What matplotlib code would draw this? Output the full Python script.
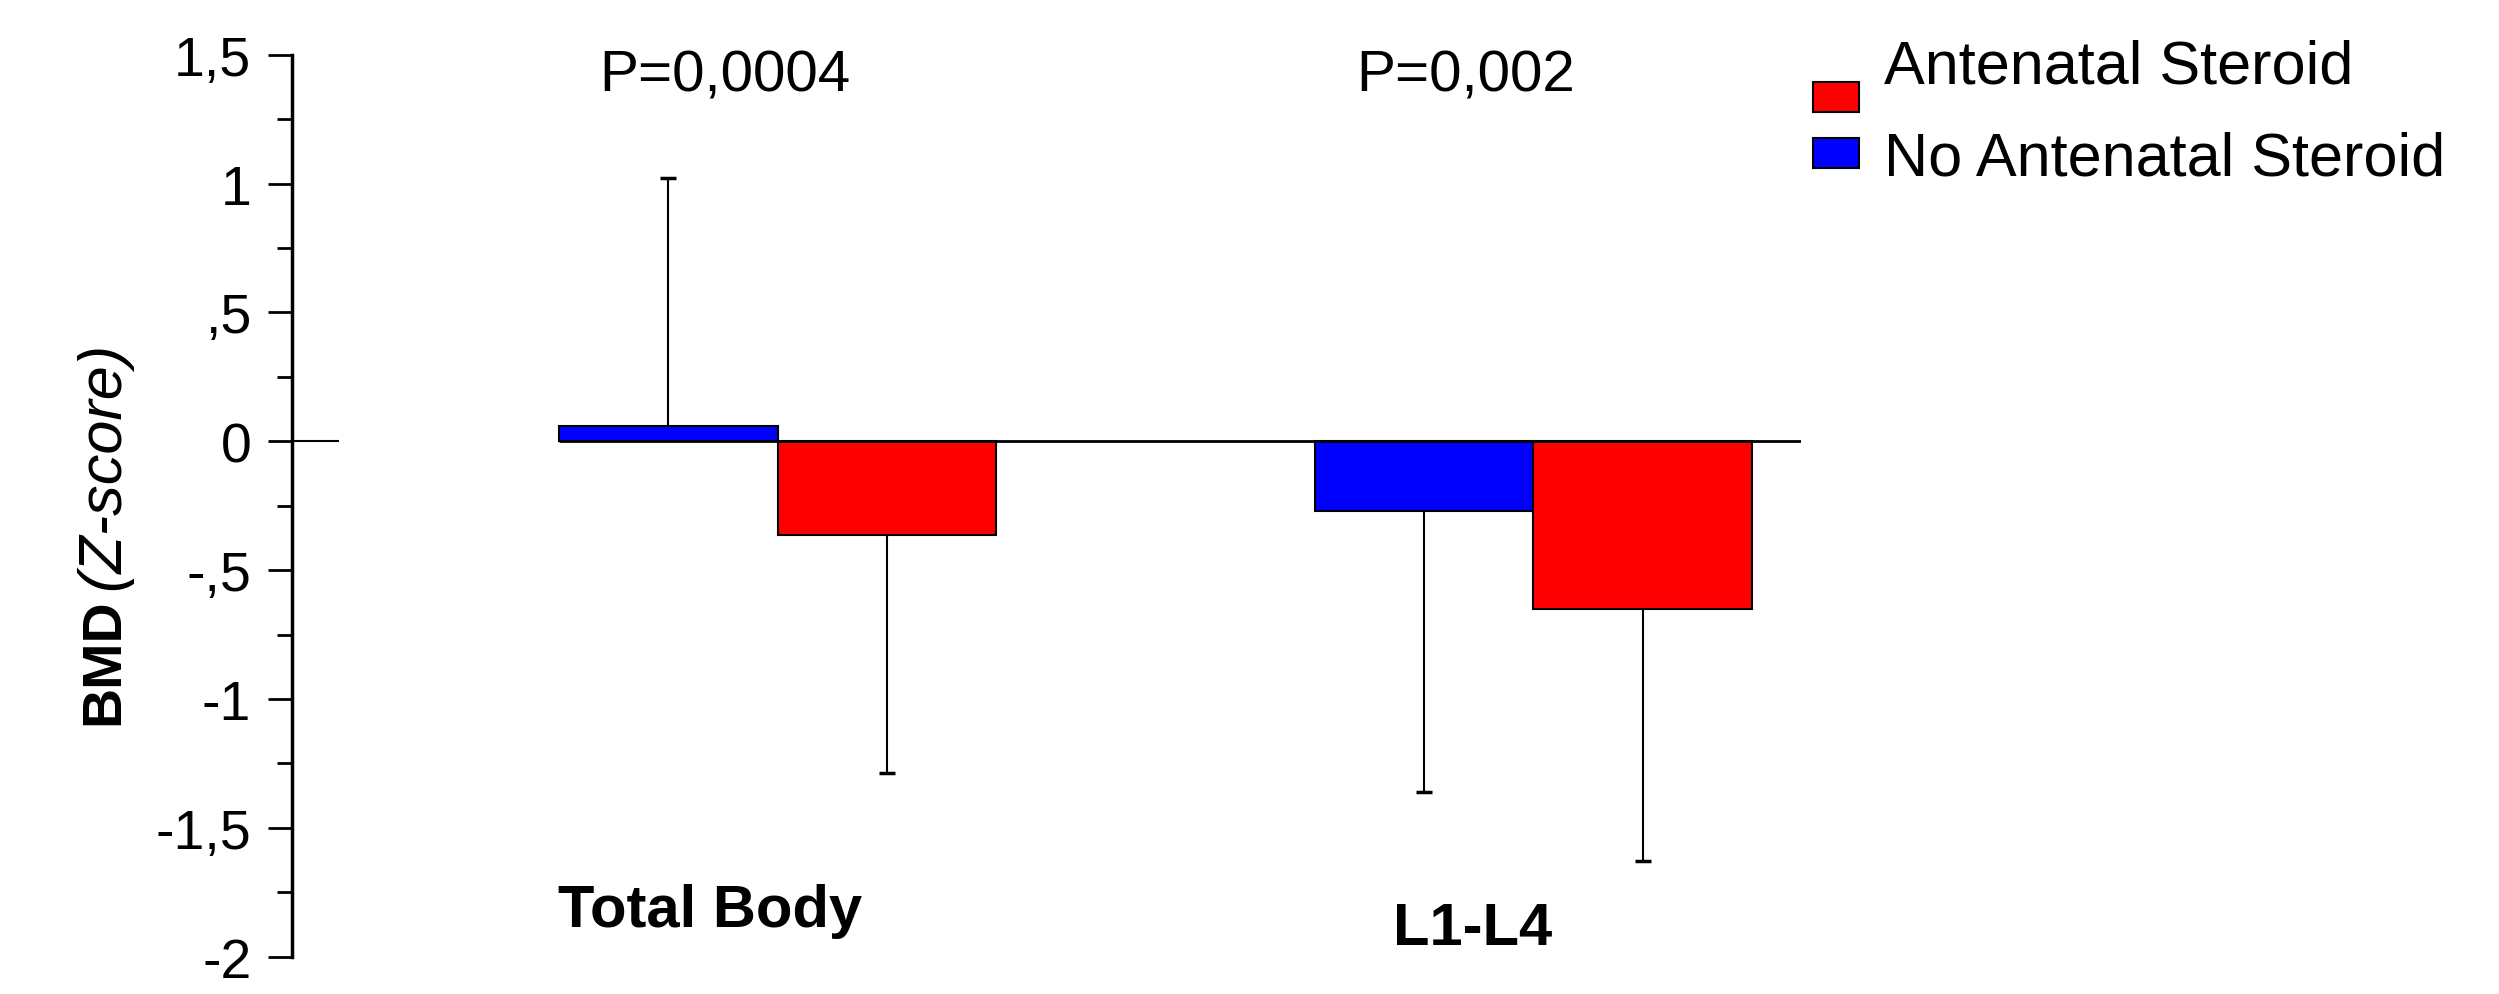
import numpy as np
import matplotlib.pyplot as plt

# data (BMD z-scores)
groups = ["Total Body", "L1-L4"]
p_values = ["P=0,0004", "P=0,002"]
no_steroid = [0.06, -0.27]       # blue
steroid = [-0.365, -0.65]        # red
no_steroid_sd = [0.96, 1.09]
steroid_sd = [0.92, 0.98]

yticks = [1.5, 1, 0.5, 0, -0.5, -1, -1.5, -2]
ytick_labels = ["1,5", "1", ",5", "0", "-,5", "-1", "-1,5", "-2"]

plt.rcParams["font.family"] = ["Liberation Sans", "DejaVu Sans"]

fig = plt.figure(figsize=(24.99, 9.95), dpi=100)
ax = fig.add_axes([0.1167, 0.0374, 0.6040, 0.9066])

x = np.arange(len(groups))
w = 0.289

b_no = ax.bar(x - w / 2, no_steroid, w, color="#0000ff", edgecolor="black", lw=1.5)
b_st = ax.bar(x + w / 2, steroid, w, color="#ff0000", edgecolor="black", lw=1.5)

# one-sided error bars, pointing away from zero, cap only on the far end
for xs, vals, sd in [(x - w / 2, no_steroid, no_steroid_sd),
                     (x + w / 2, steroid, steroid_sd)]:
    vals = np.asarray(vals)
    ends = vals + np.sign(vals) * np.asarray(sd)
    ax.vlines(xs, vals, ends, color="black", lw=1.5)
    ax.plot(xs, ends, "_", color="black", ms=12, mew=2.5)

ax.set_xlim(-0.643, 1.354)
ax.set_ylim(-2, 1.5)

# zero line: short stub at the axis and the main line under the bars
ax.hlines(0, -0.643, -0.58, color="black", lw=1.5)
ax.hlines(0, -w, 1.354, color="black", lw=2)

for s in ["top", "right", "bottom"]:
    ax.spines[s].set_visible(False)
ax.spines["left"].set_linewidth(2.5)
ax.set_xticks([])
ax.set_yticks(yticks)
ax.set_yticklabels(ytick_labels, fontsize=40)
ax.set_yticks(np.arange(-2, 1.51, 0.25), minor=True)
ax.tick_params(axis="y", which="major", length=17, width=2, pad=12)
ax.tick_params(axis="y", which="minor", length=11, width=2)

label_dx = [-0.09, -0.08]
label_y = [-1.82, -1.89]
p_dx = [-0.07, -0.09]
for i, g in enumerate(groups):
    ax.text(x[i] + label_dx[i], label_y[i], g, ha="center", va="center",
            fontsize=43, fontweight="bold")
    ax.text(x[i] + p_dx[i], 1.42, p_values[i], ha="center", va="center",
            fontsize=42)

# y label: bold BMD + italic (Z-score)
fig.text(0.0416, 0.271, "BMD", rotation=90, ha="center", va="bottom",
         fontsize=40, fontweight="bold")
fig.text(0.0416, 0.407, "(Z-score)", rotation=90, ha="center", va="bottom",
         fontsize=44, style="italic")

leg = fig.legend([b_st, b_no], ["Antenatal Steroid", "No Antenatal Steroid"],
                 loc="upper left", bbox_to_anchor=(0.7158, 0.985), frameon=False,
                 prop={"size": 44},
                 handlelength=0.75, handleheight=0.38, handletextpad=0.4,
                 labelspacing=0.58, borderaxespad=0)
# the red key sits a bit below its label in the original
red_key = leg.legend_handles[0]
red_key.set_y(red_key.get_y() - 26)

fig.savefig("out.png", dpi=100)
